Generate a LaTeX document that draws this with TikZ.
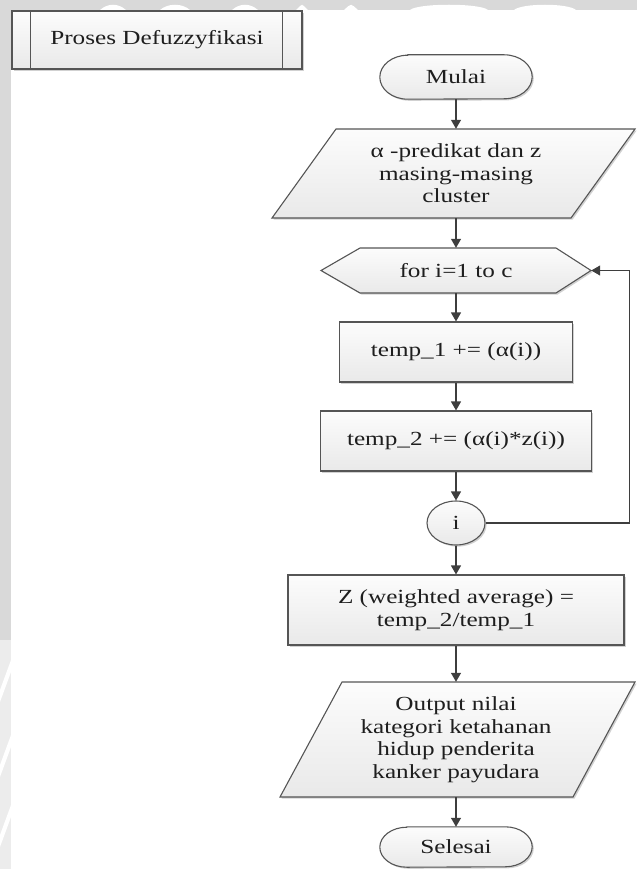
\documentclass[tikz,border=0pt]{standalone}
\usepackage{fontspec}
\setmainfont{Liberation Serif}[FakeStretch=1.26]
\usetikzlibrary{shapes.geometric,arrows.meta,backgrounds,shadows}

\definecolor{stripgray}{HTML}{D9D9D9}
\definecolor{striplight}{HTML}{ECECEC}
\definecolor{edgegray}{HTML}{555555}
\definecolor{linegray}{HTML}{3E3E3E}
\definecolor{filltop}{HTML}{FCFCFC}
\definecolor{fillbottom}{HTML}{E9E9E9}
\definecolor{inkgray}{HTML}{1E1E1E}

\tikzset{
  lbl/.style={font=\fontsize{20}{22.5}\selectfont, text=inkgray, align=center, inner sep=0pt},
  shapefill/.style={draw=edgegray, line width=1.1pt, top color=filltop, bottom color=fillbottom,
    drop shadow={shadow xshift=1.6pt, shadow yshift=-1.6pt, opacity=.18, fill=black}},
  boxnode/.style={lbl, shapefill, rectangle},
  flow/.style={draw=linegray, line width=1.2pt, -{Triangle[length=9pt,width=10pt]}},
  edgeline/.style={draw=edgegray, line width=1.1pt},
}

\begin{document}
\begin{tikzpicture}[x=1pt,y=-1pt]
\useasboundingbox (0,0) rectangle (637,869);

% page strips
\fill[stripgray] (0,0) rectangle (637,10);
\fill[stripgray] (0,0) rectangle (11,640);
\fill[striplight] (0,640) rectangle (11,869);
% faint seal marks inside the strips
\foreach \a/\b in {100/126, 160/190, 232/258, 296/308, 344/358, 410/488, 514/576}
  \fill[white] (\a,10) .. controls (\a+8,3) and (\b-8,3) .. (\b,10) -- cycle;
\foreach \y in {660, 735, 805}
  \fill[white] (0,\y+30) -- (11,\y) -- (11,\y+12) -- (0,\y+42) -- cycle;

% subroutine header
\node[boxnode, minimum width=290pt, minimum height=58pt] (title) at (157,40) {Proses Defuzzyfikasi};
\draw[edgeline] ([xshift=19pt]title.north west) -- ([xshift=19pt]title.south west);
\draw[edgeline] ([xshift=-20pt]title.north east) -- ([xshift=-20pt]title.south east);

% flowchart nodes (text; outlines of special shapes go on the background layer)
\node[lbl, minimum width=152pt, minimum height=44pt] (start) at (456,77) {Mulai};
\node[lbl, minimum width=300pt, minimum height=89pt] (input) at (456,173.5)
  {α -predikat dan z\\masing-masing\\cluster};
\node[lbl, minimum width=270pt, minimum height=45pt] (loop) at (456,270.5) {for i=1 to c};
\node[boxnode, minimum width=233pt, minimum height=60pt] (acc1) at (456,352) {temp\_1 += (α(i))};
\node[boxnode, minimum width=271pt, minimum height=60pt] (acc2) at (456,441) {temp\_2 += (α(i)*z(i))};
\node[lbl, shapefill, ellipse, minimum width=58pt, minimum height=44pt] (idx) at (456,523) {i};
\node[boxnode, minimum width=336pt, minimum height=70pt] (avg) at (456,610)
  {Z (weighted average) =\\temp\_2/temp\_1};
\node[lbl, minimum width=300pt, minimum height=115pt] (output) at (456,739.5)
  {Output nilai\\kategori ketahanan\\hidup penderita\\kanker payudara};
\node[lbl, minimum width=152pt, minimum height=40pt] (stop) at (456,847) {Selesai};

\begin{pgfonlayer}{background}
  % terminals
  \path[shapefill] ([xshift=28pt]start.north west) -- ([xshift=-28pt]start.north east)
    arc[start angle=90, end angle=-90, x radius=28pt, y radius=22pt]
    -- ([xshift=28pt]start.south west)
    arc[start angle=270, end angle=90, x radius=28pt, y radius=22pt] -- cycle;
  \path[shapefill] ([xshift=27pt]stop.north west) -- ([xshift=-27pt]stop.north east)
    arc[start angle=90, end angle=-90, x radius=27pt, y radius=20pt]
    -- ([xshift=27pt]stop.south west)
    arc[start angle=270, end angle=90, x radius=27pt, y radius=20pt] -- cycle;
  % input / output parallelograms
  \path[shapefill] (336,129) -- (635,129) -- (571,218) -- (272,218) -- cycle;
  \path[shapefill] (342,682) -- (635,682) -- (573,797) -- (280,797) -- cycle;
  % loop hexagon
  \path[shapefill] (321,270.5) -- (360,248) -- (556,248) -- (591,270.5) -- (556,293) -- (360,293) -- cycle;
\end{pgfonlayer}

% connectors
\draw[flow] (start.south) -- (input.north);
\draw[flow] (input.south) -- (loop.north);
\draw[flow] (loop.south) -- (acc1.north);
\draw[flow] (acc1.south) -- (acc2.north);
\draw[flow] (acc2.south) -- (idx.north);
\draw[flow] (idx.east) -- ++(144,0) |- (loop.east);
\draw[flow] (idx.south) -- (avg.north);
\draw[flow] (avg.south) -- (output.north);
\draw[flow] (output.south) -- (stop.north);
\end{tikzpicture}
\end{document}
